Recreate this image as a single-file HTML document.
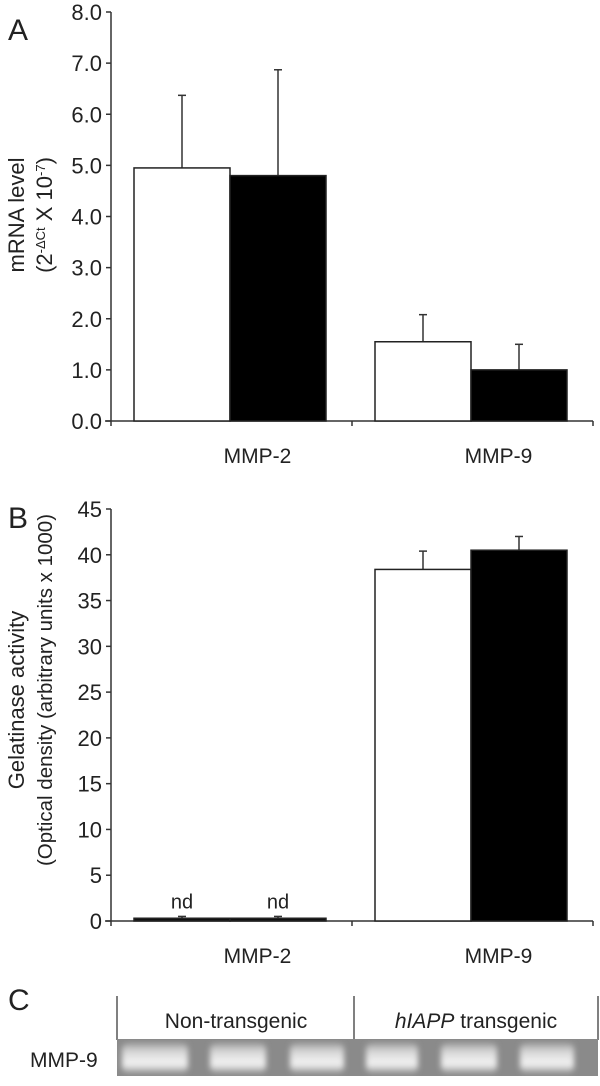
<!DOCTYPE html>
<html><head><meta charset="utf-8"><style>
html,body{margin:0;padding:0;background:#fff;}
svg{display:block;font-family:"Liberation Sans",Arial,sans-serif;}
</style></head><body>
<svg id="fig" width="600" height="1086" viewBox="0 0 600 1086" xmlns="http://www.w3.org/2000/svg">
<text x="8" y="40" font-size="30" fill="#222">A</text>
<text x="8" y="528" font-size="30" fill="#222">B</text>
<text x="8" y="1010" font-size="30" fill="#222">C</text>
<g font-size="22" fill="#222">
<text transform="translate(24,215) rotate(-90)" text-anchor="middle">mRNA level</text>
<text transform="translate(52,215) rotate(-90)" text-anchor="middle">(2<tspan font-size="13" dy="-7">-ΔCt</tspan><tspan dy="7"> X 10</tspan><tspan font-size="13" dy="-7">-7</tspan><tspan dy="7">)</tspan></text>
</g>
<g fill="#222">
<text transform="translate(24,700) rotate(-90)" text-anchor="middle" font-size="22">Gelatinase  activity</text>
<text transform="translate(52,690) rotate(-90)" text-anchor="middle" font-size="20.5">(Optical density (arbitrary units x 1000)</text>
</g>
<g id="chartA"></g>
<g id="chartB"></g>
<g>
<line x1="117" y1="996" x2="117" y2="1040" stroke="#555" stroke-width="1.5"/>
<line x1="354" y1="996" x2="354" y2="1040" stroke="#555" stroke-width="1.5"/>
<line x1="598" y1="996" x2="598" y2="1040" stroke="#555" stroke-width="1.5"/>
<text x="236" y="1028" font-size="21" text-anchor="middle" fill="#222">Non-transgenic</text>
<text x="476" y="1028" font-size="21" text-anchor="middle" fill="#222"><tspan font-style="italic">hIAPP</tspan> transgenic</text>
<text x="30" y="1067" font-size="21" fill="#222">MMP-9</text>
<defs><linearGradient id="band" x1="0" y1="0" x2="0" y2="1">
<stop offset="0" stop-color="#a0a0a0"/><stop offset="0.3" stop-color="#d8d8d8"/><stop offset="0.7" stop-color="#f4f4f4"/><stop offset="1" stop-color="#9a9a9a"/></linearGradient>
<filter id="blur"><feGaussianBlur stdDeviation="3"/></filter></defs>
<rect x="117" y="1039" width="481" height="37" fill="#8a8a8a"/>
<g id="bands" filter="url(#blur)"></g>
</g>
</svg>
<script>
var NS="http://www.w3.org/2000/svg";
function mk(p,t,a){var e=document.createElementNS(NS,t);for(var k in a)e.setAttribute(k,a[k]);p.appendChild(e);return e;}
var categories=["MMP-2","MMP-9"];
var aTicks=["0.0","1.0","2.0","3.0","4.0","5.0","6.0","7.0","8.0"];
var aNonTg=[4.95,1.55];
var aNonTgErr=[1.42,0.53];
var aTg=[4.8,1.0];
var aTgErr=[2.07,0.5];
var bTicks=["0","5","10","15","20","25","30","35","40","45"];
var bNonTg=[0.3,38.4];
var bNonTgErr=[0.2,2.0];
var bTg=[0.3,40.5];
var bTgErr=[0.2,1.5];
var bNotes=["nd",""];
function chart(id,ticks,maxV,y0,y1,s1,e1,s2,e2,notes){
  var g=document.getElementById(id);
  var ax=111,xr=593;
  function y(v){return y0-(v/maxV)*(y0-y1);}
  var groupW=(xr-ax)/categories.length;
  function bx(i,j){return ax+23+i*groupW+j*96;}
  var yl=mk(g,'line',{x1:ax,y1:y(maxV),x2:ax,y2:y0,stroke:'#333','stroke-width':1.5});
  
  
  var xl=mk(g,'line',{x1:ax-6,y1:y0,x2:xr,y2:y0,stroke:'#333','stroke-width':1.5});
  
  
  for(var c=0;c<=categories.length;c++){mk(g,'line',{x1:ax+c*groupW,y1:y0,x2:ax+c*groupW,y2:y0+5,stroke:'#333','stroke-width':1.5});}
  ticks.forEach(function(t,i){
    var v=maxV*i/(ticks.length-1);
    mk(g,'line',{x1:ax-5,y1:y(v),x2:ax,y2:y(v),stroke:'#333','stroke-width':1.5});
    var tx=mk(g,'text',{x:ax-9,y:y(v)+8,'font-size':22,'text-anchor':'end',fill:'#222'});
    tx.textContent=t;
    
    
  });
  categories.forEach(function(cat,i){
    [[s1,e1,'#fff'],[s2,e2,'#000']].forEach(function(sr,j){
      var v=sr[0][i],er=sr[1][i],x=bx(i,j);
      var cx=x+48;
      var el=mk(g,'line',{x1:cx,y1:y(v),x2:cx,y2:y(v+er),stroke:'#333','stroke-width':1.5});
      
      
      mk(g,'line',{x1:cx-4,y1:y(v+er),x2:cx+4,y2:y(v+er),stroke:'#333','stroke-width':1.5});
      var tiny=v<1;
      var r=mk(g,'rect',{x:x,y:y(v),width:96,height:y0-y(v),fill:tiny?'#111':sr[2],stroke:'#222','stroke-width':1.5});
      
      
      if(notes&&notes[i]){var n=mk(g,'text',{x:cx,y:y(v)-10,'font-size':20,'text-anchor':'middle',fill:'#222'});n.textContent=notes[i];
        
        }
    });
    var lb=mk(g,'text',{x:ax+groupW*(i+0.5)+26,y:y0+42,'font-size':21,'text-anchor':'middle',fill:'#222'});
    lb.textContent=cat;
    
    
  });
}
chart('chartA',aTicks,8,421,12,aNonTg,aNonTgErr,aTg,aTgErr,null);
chart('chartB',bTicks,45,921,509,bNonTg,bNonTgErr,bTg,bTgErr,bNotes);
var bandX=[122,210,290,366,441,520];
var bandW=[66,56,54,52,56,54];
var bg=document.getElementById('bands');
bandX.forEach(function(x,i){var r=mk(bg,'rect',{x:x,y:1043,width:bandW[i],height:30,fill:'url(#band)',rx:6});

});
</script>
</body></html>
